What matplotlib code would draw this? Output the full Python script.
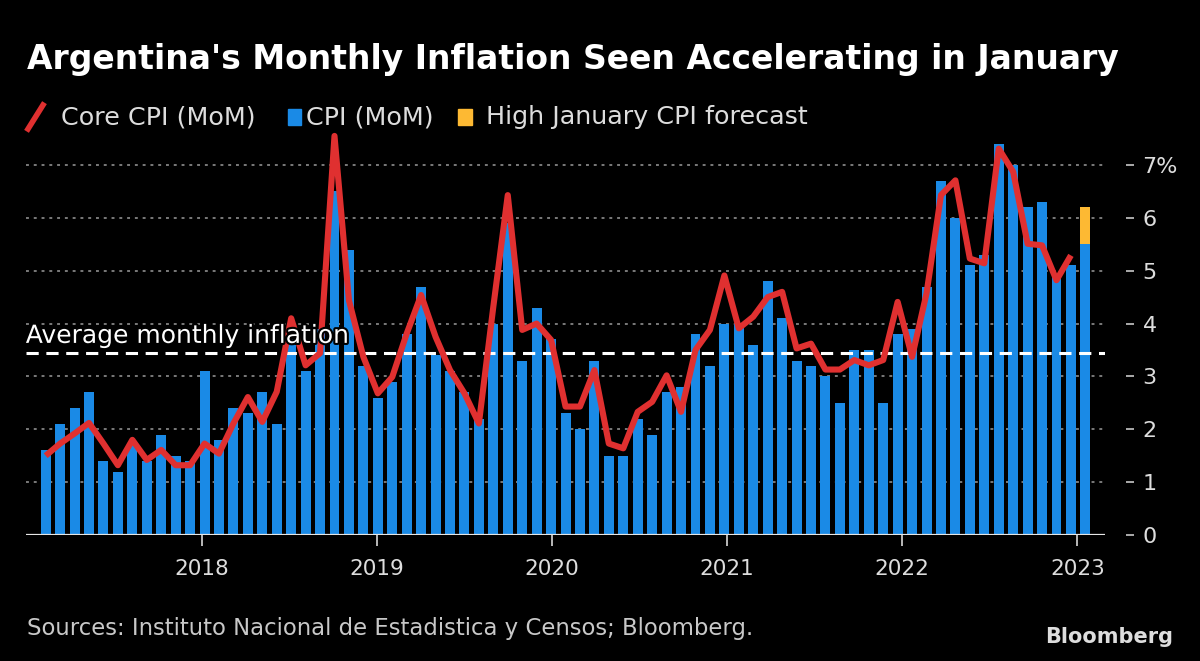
import matplotlib
matplotlib.use("Agg")
import matplotlib.pyplot as plt
import matplotlib.patheffects as pe
from matplotlib.lines import Line2D
from matplotlib.patches import Rectangle
import numpy as np
import pandas as pd

# Monthly data, Jan 2017 .. Jan 2023
months = pd.date_range("2017-01-01", "2023-01-01", freq="MS")

cpi = [1.6, 2.1, 2.4, 2.7, 1.4, 1.2, 1.7, 1.4, 1.9, 1.5, 1.4, 3.1,
       1.8, 2.4, 2.3, 2.7, 2.1, 3.7, 3.1, 3.9, 6.5, 5.4, 3.2, 2.6,
       2.9, 3.8, 4.7, 3.4, 3.1, 2.7, 2.2, 4.0, 5.9, 3.3, 4.3, 3.7,
       2.3, 2.0, 3.3, 1.5, 1.5, 2.2, 1.9, 2.7, 2.8, 3.8, 3.2, 4.0,
       4.0, 3.6, 4.8, 4.1, 3.3, 3.2, 3.0, 2.5, 3.5, 3.5, 2.5, 3.8,
       3.9, 4.7, 6.7, 6.0, 5.1, 5.3, 7.4, 7.0, 6.2, 6.3, 4.9, 5.1,
       5.5]

# core CPI runs through Dec 2022
core_cpi = [1.50, 1.73, 1.92, 2.12, 1.73, 1.32, 1.80, 1.42, 1.61, 1.32, 1.32, 1.73,
            1.54, 2.11, 2.61, 2.14, 2.71, 4.10, 3.21, 3.44, 7.55, 4.44, 3.37, 2.68,
            2.99, 3.81, 4.54, 3.75, 3.12, 2.68, 2.11, 4.32, 6.43, 3.88, 4.00, 3.69,
            2.43, 2.43, 3.12, 1.73, 1.64, 2.33, 2.52, 3.02, 2.33, 3.50, 3.88, 4.91,
            3.91, 4.13, 4.50, 4.60, 3.53, 3.62, 3.13, 3.13, 3.31, 3.21, 3.31, 4.41,
            3.37, 4.57, 6.43, 6.71, 5.23, 5.14, 7.31, 6.87, 5.51, 5.48, 4.82, 5.29]

high_jan_forecast = 6.2
avg_monthly = 3.44

year_labels = ["2018", "2019", "2020", "2021", "2022", "2023"]
y_ticks = [0, 1, 2, 3, 4, 5, 6, 7]
y_tick_labels = ["0", "1", "2", "3", "4", "5", "6", "7%"]

BLUE = "#1a8ae6"
RED = "#e03030"
YELLOW = "#fdb933"
GREY = "#c8c8c8"

x = np.arange(len(months))
# year ticks sit a little left of the December bar
first_tick = list(months).index(pd.Timestamp("2017-12-01")) - 0.2
year_pos = first_tick + np.arange(len(year_labels)) * 12.13

fig = plt.figure(figsize=(12, 6.61), dpi=100, facecolor="black")
ax = fig.add_axes([26 / 1200, 126 / 661, (1105 - 26) / 1200, 407 / 661])
ax.set_facecolor("black")

ax.bar(x, cpi, width=0.69, color=BLUE, zorder=2)
ax.bar(x[-1], high_jan_forecast - cpi[-1], bottom=cpi[-1], width=0.69,
       color=YELLOW, zorder=2)
ax.plot(x[:len(core_cpi)], core_cpi, color=RED, lw=4.4,
        solid_joinstyle="round", solid_capstyle="butt", zorder=4, clip_on=False)

ax.axhline(avg_monthly, color="white", lw=2.2, ls=(0, (4, 2.5)), zorder=3)
ax.text(x[0] - 1.38, avg_monthly + 0.1, "Average monthly inflation",
        color="white", fontsize=18, ha="left", va="bottom", zorder=5,
        path_effects=[pe.withStroke(linewidth=3, foreground="black")])

ax.set_xlim(-1.364, 73.36)
ax.set_ylim(0, 7.7)

for yv in y_ticks[1:]:
    ax.axhline(yv, color="#7a7a7a", lw=1.4, ls=(0, (1.5, 2.5)), zorder=1)
ax.axhline(0, color="#e6e6e6", lw=1.6, zorder=3)

ax.set_xticks(year_pos)
ax.set_xticklabels(year_labels)
ax.tick_params(axis="x", colors=GREY, labelsize=15.5, length=8, width=1.3,
               pad=9, direction="out")

ax.yaxis.tick_right()
ax.spines["right"].set_position(("outward", 15))
ax.set_yticks(y_ticks)
ax.set_yticklabels(y_tick_labels)
ax.tick_params(axis="y", colors=GREY, labelsize=16, length=6, width=1.2,
               pad=6, direction="out")
for tl in ax.get_yticklabels():
    tl.set_color("#dddddd")
for tl in ax.get_xticklabels():
    tl.set_color("#dddddd")

for s in ax.spines.values():
    s.set_visible(False)

# title and legend
fig.text(27 / 1200, 1 - 60 / 661, "Argentina's Monthly Inflation Seen Accelerating in January",
         color="white", fontsize=23.8, fontweight="bold", ha="left", va="center")

fig.add_artist(Line2D([28 / 1200, 43 / 1200], [1 - 129 / 661, 1 - 105 / 661],
                      color=RED, lw=4, transform=fig.transFigure))
fig.text(61 / 1200, 1 - 117 / 661, "Core CPI (MoM)", color="#dddddd",
         fontsize=18.3, ha="left", va="center")
fig.add_artist(Rectangle((288 / 1200, 1 - 125 / 661), 13 / 1200, 16 / 661,
                         color=BLUE, transform=fig.transFigure))
fig.text(306 / 1200, 1 - 117 / 661, "CPI (MoM)", color="#dddddd",
         fontsize=18.3, ha="left", va="center")
fig.add_artist(Rectangle((458 / 1200, 1 - 125 / 661), 14 / 1200, 16 / 661,
                         color=YELLOW, transform=fig.transFigure))
fig.text(486 / 1200, 1 - 117 / 661, "High January CPI forecast", color="#dddddd",
         fontsize=18.3, ha="left", va="center")

fig.text(27 / 1200, 1 - 628 / 661,
         "Sources: Instituto Nacional de Estadistica y Censos; Bloomberg.",
         color=GREY, fontsize=16.4, ha="left", va="center")
fig.text(1173 / 1200, 1 - 637 / 661, "Bloomberg", color="#dddddd",
         fontsize=15, fontweight="bold", ha="right", va="center")

fig.savefig("out.png", dpi=100, facecolor="black")
